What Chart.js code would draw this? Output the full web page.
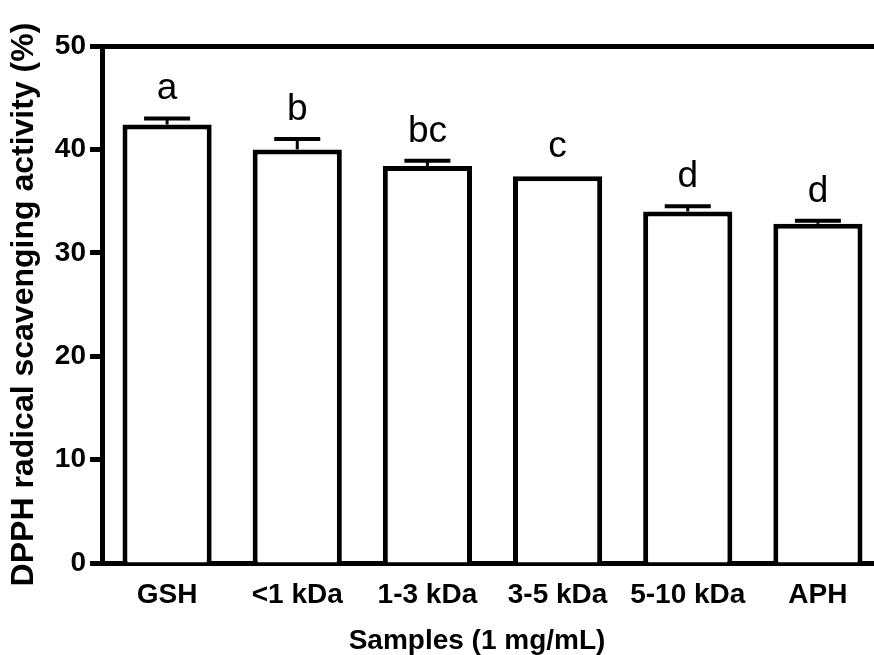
<!DOCTYPE html>
<html>
<head>
<meta charset="utf-8">
<script src="https://cdn.jsdelivr.net/npm/chart.js@4/dist/chart.umd.min.js"></script>
<style>
  html, body { margin: 0; padding: 0; background: #fff; }
  #wrap { width: 874px; height: 655px; overflow: hidden; }
</style>
</head>
<body>
<div id="wrap"><canvas id="dpphChart" width="883" height="655"></canvas></div>
<script>
// DPPH scavenging per sample
const samples = ["GSH", "<1 kDa", "1-3 kDa", "3-5 kDa", "5-10 kDa", "APH"];
const activity = [42.4, 40.0, 38.4, 37.4, 34.0, 32.8];
const errors = [0.6, 1.0, 0.5, 0, 0.5, 0.3];
const letters = ["a", "b", "bc", "c", "d", "d"];
const yTicks = [0, 10, 20, 30, 40, 50];

const FONT = "'Liberation Sans', Arial, Helvetica, sans-serif";

// error bars, significance letters, x title
const annotate = {
  id: "annotate",
  afterDatasetsDraw(chart) {
    const ctx = chart.ctx;
    const y = chart.scales.y;
    const bars = chart.getDatasetMeta(0).data;
    ctx.save();
    ctx.strokeStyle = "#000";
    ctx.fillStyle = "#000";
    bars.forEach((bar, i) => {
      const top = y.getPixelForValue(activity[i] + errors[i]);
      if (errors[i] > 0) {
        ctx.lineWidth = 3;
        ctx.beginPath();
        ctx.moveTo(bar.x, bar.y);
        ctx.lineTo(bar.x, top);
        ctx.stroke();
        ctx.lineWidth = 4;
        ctx.beginPath();
        ctx.moveTo(bar.x - 23, top);
        ctx.lineTo(bar.x + 23, top);
        ctx.stroke();
      }
      ctx.font = "37px " + FONT;
      ctx.textAlign = "center";
      ctx.textBaseline = "alphabetic";
      ctx.fillText(letters[i], bar.x, top - 19);
    });
    ctx.font = "bold 28px " + FONT;
    ctx.textAlign = "center";
    ctx.textBaseline = "middle";
    ctx.fillText("Samples (1 mg/mL)", chart.chartArea.left + 375, 641);
    ctx.restore();
  }
};

new Chart("dpphChart", {
  type: "bar",
  data: {
    labels: samples,
    datasets: [{
      data: activity,
      backgroundColor: "#fff",
      borderColor: "#000",
      borderWidth: 5,
      barPercentage: 0.685,
      categoryPercentage: 1
    }]
  },
  options: {
    responsive: false,
    devicePixelRatio: 1,
    animation: false,
    layout: { padding: { top: 46, left: 0, right: 0, bottom: 0 } },
    plugins: {
      legend: { display: false },
      tooltip: { enabled: false }
    },
    scales: {
      x: {
        grid: { display: false },
        border: { display: true, color: "#000", width: 5 },
        ticks: { color: "#000", font: { family: FONT, size: 28, weight: "bold" }, padding: 7, maxRotation: 0, autoSkip: false },
        afterFit: s => { s.height = 92; }
      },
      top: {
        type: "category",
        position: "top",
        grid: { display: false },
        border: { display: true, color: "#000", width: 5 },
        ticks: { display: false },
        afterFit: s => { s.height = 0; }
      },
      y: {
        min: 0,
        max: 50,
        afterBuildTicks: s => { s.ticks = yTicks.map(v => ({ value: v })); },
        grid: { drawOnChartArea: false, drawTicks: true, tickLength: 12, tickWidth: 5, tickColor: "#000" },
        border: { display: true, color: "#000", width: 5 },
        ticks: { color: "#000", font: { family: FONT, size: 28, weight: "bold" }, padding: 4 },
        title: {
          display: true,
          text: "DPPH radical scavenging activity (%)",
          color: "#000",
          font: { family: FONT, size: 32, weight: "bold", lineHeight: 1.2 },
          padding: { top: 5, bottom: 0 }
        },
        afterFit: s => { s.width = 102; }
      }
    }
  },
  plugins: [annotate]
});
</script>
</body>
</html>
